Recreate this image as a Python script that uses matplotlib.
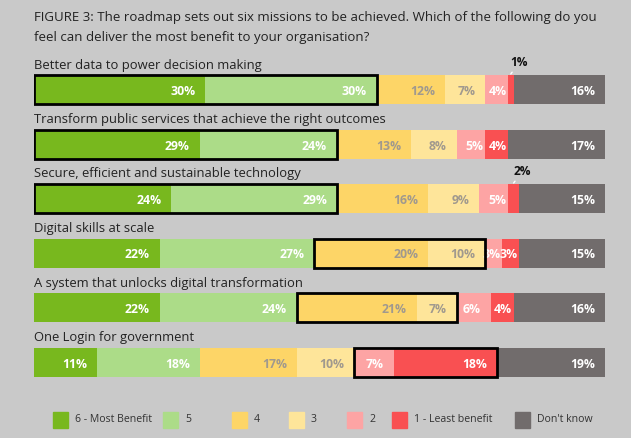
import matplotlib
matplotlib.use("Agg")
import matplotlib.pyplot as plt
from matplotlib.patches import Rectangle

plt.rcParams["font.family"] = ["Open Sans", "DejaVu Sans"]

W, H = 631, 438
BG = "#c9c9c9"

TITLE = ["FIGURE 3: The roadmap sets out six missions to be achieved. Which of the following do you",
         "feel can deliver the most benefit to your organisation?"]

missions = [
    "Better data to power decision making",
    "Transform public services that achieve the right outcomes",
    "Secure, efficient and sustainable technology",
    "Digital skills at scale",
    "A system that unlocks digital transformation",
    "One Login for government",
]
levels = ["6 - Most Benefit", "5", "4", "3", "2", "1 - Least benefit", "Don't know"]
values = [
    [30, 30, 12, 7, 4, 1, 16],
    [29, 24, 13, 8, 5, 4, 17],
    [24, 29, 16, 9, 5, 2, 15],
    [22, 27, 20, 10, 3, 3, 15],
    [22, 24, 21, 7, 6, 4, 16],
    [11, 18, 17, 10, 7, 18, 19],
]
# pair of answer levels that is boxed in each row
highlight = [(0, 1), (0, 1), (0, 1), (2, 3), (2, 3), (4, 5)]

colors = ["#78b81e", "#acdc88", "#fdd567", "#fee59a", "#fda4a4", "#f95052", "#716c6c"]
text_colors = ["white", "white", "#a0998e", "#a0998e", "white", "white", "white"]

fig = plt.figure(figsize=(W / 100, H / 100), dpi=100)
fig.patch.set_facecolor(BG)

# x in percent, y in pixel rows (top = 0)
ax = fig.add_axes([34 / W, 0, 571 / W, 1])
ax.set_xlim(0, 100)
ax.set_ylim(H, 0)
ax.axis("off")

for k, line in enumerate(TITLE):
    fig.text(34 / W, 1 - (17 + 20 * k) / H, line, fontsize=9.5, color="#222222",
             va="center", ha="left")

row_top = 75
row_step = 54.5
bar_h = 29

for i, (name, vals) in enumerate(zip(missions, values)):
    yc = row_top + bar_h / 2 + i * row_step
    ax.text(0, yc - 24.5, name, fontsize=9.4, color="#222222", va="center", ha="left")
    left = 0
    lefts = []
    for j, v in enumerate(vals):
        ax.barh(yc, v, left=left, height=bar_h, color=colors[j], edgecolor="none")
        lefts.append(left)
        if v >= 3:
            pad = -7 if v >= 6 else -1
            ax.annotate(f"{v}%", (left + v, yc + 2), xytext=(pad, 0),
                        textcoords="offset points", ha="right", va="center",
                        fontsize=8.8, fontweight="bold", color=text_colors[j])
        else:
            mid = left + v / 2
            ax.annotate(f"{v}%", (mid, yc - bar_h / 2 - 1), xytext=(6, 8),
                        textcoords="offset points", ha="center", va="center",
                        fontsize=8.6, fontweight="bold", color="#111111",
                        arrowprops=dict(arrowstyle="-", color="white", lw=1,
                                        shrinkA=5, shrinkB=0))
        left += v
    a, b = highlight[i]
    x0 = lefts[a]
    x1 = lefts[b] + vals[b]
    ax.add_patch(Rectangle((x0, yc - bar_h / 2), x1 - x0, bar_h, fill=False,
                           edgecolor="black", lw=2, zorder=5))

# legend
leg_x = [53, 163, 232, 289, 347, 392, 515]
leg_y = 420
for x, lab, c in zip(leg_x, levels, colors):
    fig.patches.append(Rectangle((x / W, 1 - (leg_y + 8) / H), 15 / W, 16 / H,
                                 transform=fig.transFigure, color=c))
    fig.text((x + 22) / W, 1 - leg_y / H, lab, fontsize=7.6, color="#333333",
             va="center", ha="left")

fig.savefig("out.png", dpi=100, facecolor=BG)
